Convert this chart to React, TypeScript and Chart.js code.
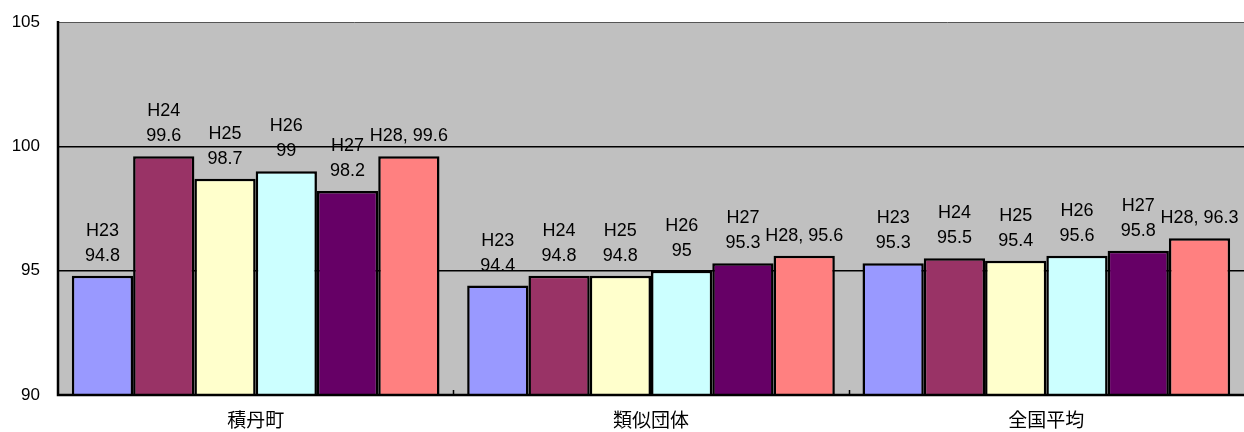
import React, { useEffect, useRef } from "react";
import { Chart, registerables } from "chart.js";

Chart.register(...registerables);

const categories = ["積丹町", "類似団体", "全国平均"];
const seriesNames = ["H23", "H24", "H25", "H26", "H27", "H28"];
const seriesColors = ["#9999FF", "#993366", "#FFFFCC", "#CCFFFF", "#660066", "#FF8080"];
const valuesH23 = [94.8, 94.4, 95.3];
const valuesH24 = [99.6, 94.8, 95.5];
const valuesH25 = [98.7, 94.8, 95.4];
const valuesH26 = [99, 95, 95.6];
const valuesH27 = [98.2, 95.3, 95.8];
const valuesH28 = [99.6, 95.6, 96.3];
const yTicks = [90, 95, 100, 105];

const FONT = "'Liberation Sans', 'Noto Sans CJK JP', sans-serif";

export default function App() {
  const ref = useRef<HTMLCanvasElement>(null);
  useEffect(() => {
    document.body.style.margin = "0";
    const all = [valuesH23, valuesH24, valuesH25, valuesH26, valuesH27, valuesH28];
    const plugin = {
      id: "custom",
      beforeDraw(chart: any) {
        const { ctx, chartArea } = chart;
        ctx.save();
        ctx.fillStyle = "#C0C0C0";
        ctx.fillRect(chartArea.left, chartArea.top, chartArea.right - chartArea.left, chartArea.bottom - chartArea.top);
        ctx.restore();
      },
      afterDatasetsDraw(chart: any) {
        const { ctx, chartArea } = chart;
        ctx.save();
        const n = categories.length;
        const w = (chartArea.right - chartArea.left) / n;
        ctx.strokeStyle = "#000";
        ctx.lineWidth = 1.5;
        for (let i = 1; i < n; i++) {
          const x = Math.round(chartArea.left + i * w) + 0.5;
          ctx.beginPath();
          ctx.moveTo(x, chartArea.bottom);
          ctx.lineTo(x, chartArea.bottom - 5);
          ctx.stroke();
        }
        ctx.lineWidth = 2.5;
        ctx.beginPath();
        ctx.moveTo(chartArea.left, chartArea.top - 1);
        ctx.lineTo(chartArea.left, chartArea.bottom);
        ctx.lineTo(chartArea.right, chartArea.bottom);
        ctx.stroke();
        ctx.fillStyle = "#000";
        ctx.font = "18px " + FONT;
        ctx.textAlign = "center";
        ctx.textBaseline = "middle";
        chart.data.datasets.forEach((ds: any, di: number) => {
          const meta = chart.getDatasetMeta(di);
          meta.data.forEach((bar: any, i: number) => {
            const v = ds.data[i];
            const lines = di === seriesNames.length - 1 ? [seriesNames[di] + ", " + v] : [seriesNames[di], String(v)];
            let y = bar.y - 20;
            for (let k = lines.length - 1; k >= 0; k--) {
              ctx.fillText(lines[k], bar.x, y);
              y -= 25;
            }
          });
        });
        ctx.restore();
      },
    };
    const chart = new Chart(ref.current!, {
      type: "bar",
      data: {
        labels: categories,
        datasets: all.map((d, i) => ({
          label: seriesNames[i],
          data: d,
          backgroundColor: seriesColors[i],
          borderColor: "#000",
          borderWidth: 2.5,
          borderSkipped: false,
          barPercentage: 1,
          categoryPercentage: 0.93,
        })),
      },
      options: {
        animation: false,
        responsive: false,
        maintainAspectRatio: false,
        layout: { padding: { top: 22, right: 0, left: 0, bottom: 0 } },
        plugins: { legend: { display: false }, tooltip: { enabled: false } },
        scales: {
          x: {
            grid: { display: false },
            border: { display: false },
            ticks: { color: "#000", font: { size: 19, family: FONT }, padding: 7 },
            afterFit(scale: any) {
              scale.height = 37;
              scale.paddingLeft = 0;
              scale.paddingRight = 0;
            },
          },
          y: {
            min: 90,
            max: 105,
            afterBuildTicks(scale: any) {
              scale.ticks = yTicks.map((v) => ({ value: v }));
            },
            grid: {
              color: (c: any) => (c.tick && c.tick.value === 105 ? "#555" : "#000"),
              lineWidth: (c: any) => (c.tick && c.tick.value === 105 ? 1 : 1.5),
              drawTicks: false,
            },
            border: { display: false },
            ticks: { color: "#000", font: { size: 17, family: FONT }, padding: 18 },
            afterFit(scale: any) {
              scale.width = 58;
              scale.paddingTop = 0;
              scale.paddingBottom = 0;
            },
          },
        },
      },
      plugins: [plugin],
    });
    return () => chart.destroy();
  }, []);
  return (
    <div style={{ position: "absolute", left: 0, top: 0, width: 1244, height: 432 }}>
      <canvas ref={ref} width={1244} height={432} style={{ width: 1244, height: 432 }} />
    </div>
  );
}
